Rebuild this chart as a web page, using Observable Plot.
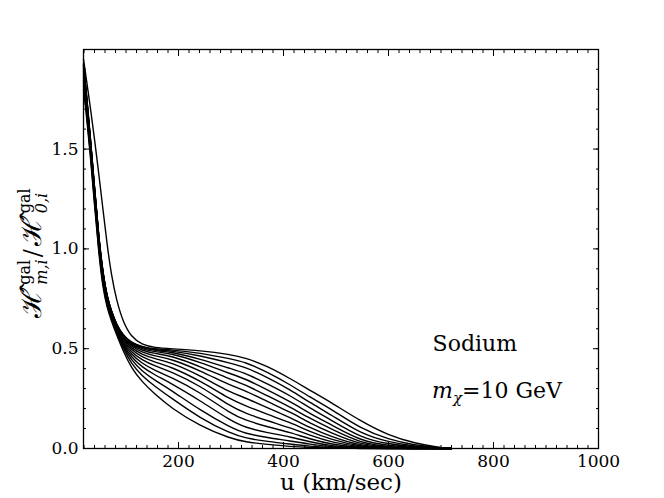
<!DOCTYPE html>
<html><head><meta charset="utf-8">
<script src="https://cdn.jsdelivr.net/npm/d3@7"></script>
<script src="https://cdn.jsdelivr.net/npm/@observablehq/plot@0.6"></script>
<style>
html,body{margin:0;padding:0;background:#fff;}
#chart svg{display:block;}
</style></head><body><div id="chart"></div>
<script>
// velocity grid (km/sec)
const u = [19, 25, 32, 40, 48, 56, 64, 72, 82, 95, 110, 130, 155, 185, 241, 299, 327, 370, 413, 450, 490, 547, 600, 650, 700, 720];
// ratio curves, top to bottom
const h0  = [1.95, 1.84, 1.71, 1.55, 1.38, 1.20, 1.02, 0.87, 0.74, 0.63, 0.56, 0.52, 0.505, 0.500, 0.491, 0.471, 0.455, 0.412, 0.350, 0.292, 0.232, 0.137, 0.066, 0.026, 0.004, 0];
const h1  = [1.930, 1.770, 1.560, 1.310, 1.060, 0.880, 0.760, 0.690, 0.620, 0.565, 0.530, 0.510, 0.498, 0.495, 0.479, 0.449, 0.433, 0.382, 0.319, 0.258, 0.199, 0.099, 0.045, 0.016, 0.003, 0];
const h2  = [1.925, 1.766, 1.557, 1.308, 1.058, 0.878, 0.759, 0.689, 0.619, 0.564, 0.528, 0.507, 0.494, 0.490, 0.466, 0.427, 0.408, 0.355, 0.294, 0.230, 0.170, 0.074, 0.032, 0.011, 0.002, 0];
const h3  = [1.920, 1.762, 1.554, 1.305, 1.056, 0.876, 0.758, 0.688, 0.618, 0.562, 0.526, 0.504, 0.490, 0.485, 0.449, 0.400, 0.378, 0.323, 0.265, 0.203, 0.144, 0.054, 0.022, 0.007, 0.001, 0];
const h4  = [1.914, 1.758, 1.551, 1.302, 1.053, 0.873, 0.757, 0.687, 0.617, 0.560, 0.522, 0.499, 0.484, 0.477, 0.432, 0.374, 0.350, 0.293, 0.235, 0.176, 0.120, 0.038, 0.014, 0.004, 0.001, 0];
const h5  = [1.907, 1.753, 1.547, 1.298, 1.050, 0.870, 0.754, 0.685, 0.615, 0.557, 0.517, 0.492, 0.475, 0.466, 0.411, 0.346, 0.320, 0.263, 0.207, 0.151, 0.099, 0.027, 0.009, 0.002, 0, 0];
const h6  = [1.899, 1.747, 1.542, 1.293, 1.046, 0.866, 0.751, 0.682, 0.612, 0.553, 0.511, 0.483, 0.463, 0.450, 0.391, 0.315, 0.290, 0.234, 0.182, 0.128, 0.079, 0.019, 0.006, 0.001, 0, 0];
const h7  = [1.890, 1.740, 1.536, 1.287, 1.041, 0.861, 0.748, 0.679, 0.609, 0.548, 0.503, 0.472, 0.449, 0.432, 0.366, 0.280, 0.255, 0.203, 0.155, 0.105, 0.060, 0.013, 0.004, 0, 0, 0];
const h8  = [1.880, 1.732, 1.530, 1.280, 1.035, 0.855, 0.744, 0.675, 0.605, 0.542, 0.493, 0.459, 0.432, 0.410, 0.340, 0.245, 0.215, 0.170, 0.130, 0.085, 0.045, 0.009, 0.002, 0, 0, 0];
const h9  = [1.869, 1.724, 1.523, 1.273, 1.029, 0.849, 0.739, 0.671, 0.601, 0.535, 0.483, 0.444, 0.413, 0.386, 0.315, 0.210, 0.177, 0.138, 0.104, 0.066, 0.032, 0.006, 0.001, 0, 0, 0];
const h10 = [1.857, 1.715, 1.515, 1.265, 1.022, 0.842, 0.734, 0.666, 0.596, 0.527, 0.471, 0.427, 0.391, 0.358, 0.282, 0.175, 0.142, 0.108, 0.080, 0.048, 0.021, 0.004, 0, 0, 0, 0];
const h11 = [1.845, 1.705, 1.506, 1.256, 1.014, 0.834, 0.728, 0.661, 0.591, 0.519, 0.458, 0.409, 0.368, 0.328, 0.240, 0.140, 0.105, 0.079, 0.058, 0.033, 0.013, 0.003, 0, 0, 0, 0];
const h12 = [1.832, 1.694, 1.497, 1.247, 1.006, 0.826, 0.722, 0.655, 0.585, 0.510, 0.443, 0.389, 0.341, 0.294, 0.192, 0.105, 0.075, 0.054, 0.038, 0.021, 0.008, 0.002, 0, 0, 0, 0];
const h13 = [1.817, 1.680, 1.485, 1.235, 0.995, 0.815, 0.714, 0.649, 0.579, 0.499, 0.426, 0.365, 0.311, 0.255, 0.152, 0.075, 0.052, 0.035, 0.022, 0.011, 0.004, 0.001, 0, 0, 0, 0];
const h14 = [1.800, 1.660, 1.470, 1.220, 0.980, 0.800, 0.705, 0.640, 0.570, 0.485, 0.405, 0.335, 0.272, 0.205, 0.112, 0.050, 0.033, 0.020, 0.010, 0.005, 0.002, 0, 0, 0, 0, 0];

const xTicks = [200, 400, 600, 800, 1000];
const yTicks = [0, 0.5, 1.0, 1.5];
const xMinor = d3.range(20, 1001, 20);
const yMinor = d3.range(1, 20).map(i => i / 10);

const curves = [h0, h1, h2, h3, h4, h5, h6, h7, h8, h9, h10, h11, h12, h13, h14];
const rows = curves.flatMap((vals, k) => vals.map((v, i) => ({u: u[i], v, k})));

const serif = "'DejaVu Serif', serif";
const MAJ = 6, MIN = 3;
const noText = () => "";

const chart = Plot.plot({
  width: 664, height: 498,
  marginLeft: 83, marginRight: 66, marginTop: 49, marginBottom: 50,
  x: {domain: [19, 1000]},
  y: {domain: [0, 1.999]},
  style: {fontFamily: serif, fontSize: "17px", background: "white", color: "black", overflow: "visible"},
  marks: [
    Plot.line(rows, {x: "u", y: "v", z: "k", stroke: "black", strokeWidth: 1.4, curve: "basis"}),
    Plot.frame({stroke: "black", strokeWidth: 1.3}),
    // inward ticks, bottom / top
    Plot.axisX({anchor: "bottom", ticks: xMinor, tickSize: MIN, dy: -MIN, tickFormat: noText, label: null}),
    Plot.axisX({anchor: "bottom", ticks: xTicks, tickSize: MAJ, dy: -MAJ, tickFormat: noText, label: null}),
    Plot.axisX({anchor: "top", ticks: xMinor, tickSize: MIN, dy: MIN, tickFormat: noText, label: null}),
    Plot.axisX({anchor: "top", ticks: xTicks, tickSize: MAJ, dy: MAJ, tickFormat: noText, label: null}),
    Plot.axisX({anchor: "bottom", ticks: xTicks, tickSize: 0, tickPadding: 6, tickFormat: d => String(d), label: null, fontSize: 17}),
    // inward ticks, left / right
    Plot.axisY({anchor: "left", ticks: yMinor, tickSize: MIN, dx: MIN, tickFormat: noText, label: null}),
    Plot.axisY({anchor: "left", ticks: yTicks, tickSize: MAJ, dx: MAJ, tickFormat: noText, label: null}),
    Plot.axisY({anchor: "right", ticks: yMinor, tickSize: MIN, dx: -MIN, tickFormat: noText, label: null}),
    Plot.axisY({anchor: "right", ticks: yTicks, tickSize: MAJ, dx: -MAJ, tickFormat: noText, label: null}),
    Plot.axisY({anchor: "left", ticks: yTicks, tickSize: 0, tickPadding: 5, tickFormat: d3.format(".1f"), label: null, fontSize: 17}),
    // x axis title
    Plot.text(["u (km/sec)"], {frameAnchor: "bottom", dy: 41, lineAnchor: "bottom", text: d => d, fontSize: 23, fill: "black"}),
    // annotation
    Plot.text(["Sodium"], {x: 684, y: 0.49, text: d => d, textAnchor: "start", lineAnchor: "bottom", fontSize: 22, fill: "black"})
  ]
});
document.getElementById("chart").appendChild(chart);

const svg = d3.select(chart);
const sx = chart.scale("x"), sy = chart.scale("y");

// m_chi = 10 GeV annotation
const mt = svg.append("text")
  .attr("x", sx.apply(684)).attr("y", sy.apply(0.25))
  .attr("text-anchor", "start")
  .attr("font-family", serif).attr("font-size", 22).attr("fill", "black");
mt.append("tspan").attr("font-style", "italic").text("m");
mt.append("tspan").attr("font-style", "italic").attr("font-size", 15).attr("dy", 5).text("χ");
mt.append("tspan").attr("dy", -5).text("=10 GeV");

// y axis title (rotated), laid out piece by piece
const outer = svg.append("g").attr("transform", "translate(41,252) rotate(-90)")
  .attr("font-family", serif).attr("fill", "black").attr("text-anchor", "start");
const inner = outer.append("g");
let cx = 0;
function put(str, size, dy, italic) {
  const t = inner.append("text").attr("x", cx).attr("y", dy).attr("font-size", size)
    .attr("font-style", italic ? "italic" : "normal").text(str);
  return t.node().getComputedTextLength();
}
function main(str, size) { cx += put(str, size, 0, false) + 3; }
function stack(sup, sub) {
  const w1 = put(sup, 16, -11, false);
  const w2 = put(sub, 16, 6, true);
  cx += Math.max(w1, w2) + 2;
}
main("ℋ̂", 28);
stack("gal", "m,i");
main("/", 24);
main("ℋ̂", 28);
stack("gal", "0,i");
inner.attr("transform", `translate(${-cx / 2},0)`);
</script>
</body></html>
